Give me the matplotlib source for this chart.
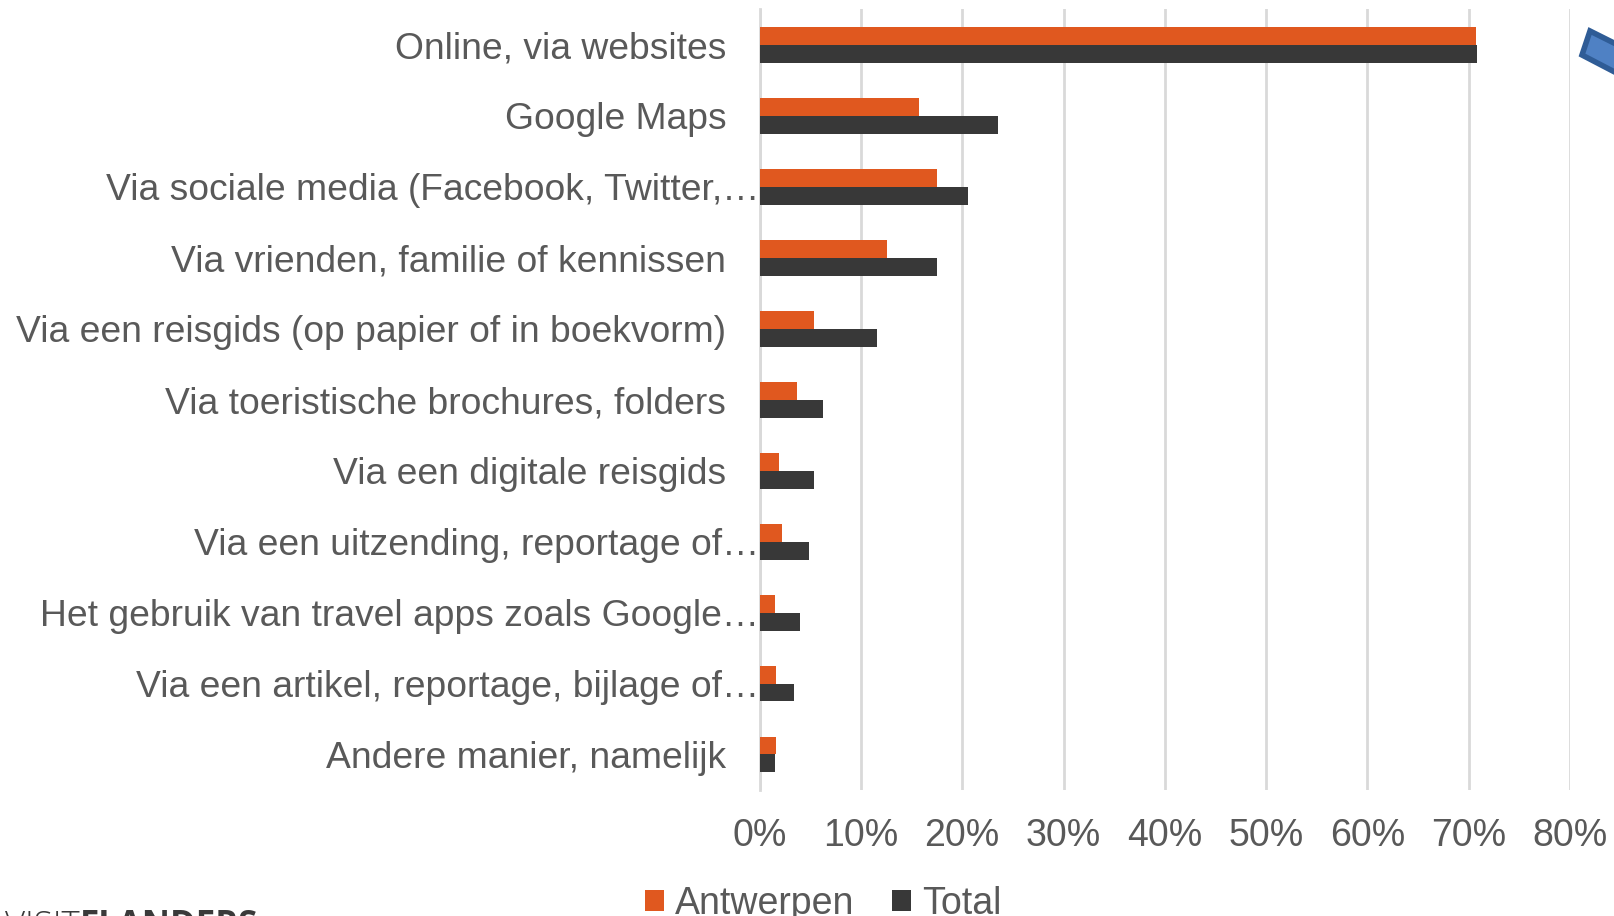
import matplotlib.pyplot as plt
import numpy as np
from matplotlib.patches import Polygon
from matplotlib.transforms import ScaledTranslation

plt.rcParams['font.family'] = ['Liberation Sans', 'DejaVu Sans']

categories = [
    "Online, via websites",
    "Google Maps",
    "Via sociale media (Facebook, Twitter,…",
    "Via vrienden, familie of kennissen",
    "Via een reisgids (op papier of in boekvorm)",
    "Via toeristische brochures, folders",
    "Via een digitale reisgids",
    "Via een uitzending, reportage of…",
    "Het gebruik van travel apps zoals Google…",
    "Via een artikel, reportage, bijlage of…",
    "Andere manier, namelijk",
]
antwerpen = [0.707, 0.157, 0.175, 0.126, 0.054, 0.037, 0.019, 0.022, 0.015, 0.016, 0.016]
total = [0.708, 0.235, 0.206, 0.175, 0.116, 0.063, 0.054, 0.049, 0.040, 0.034, 0.015]
ticks = np.arange(0, 0.81, 0.1)
tick_labels = [f"{int(round(t * 100))}%" for t in ticks]

orange = '#E0581F'
dark = '#383838'
grey = '#595959'

fig = plt.figure(figsize=(16.14, 9.16), dpi=100)
ax = fig.add_axes([0.4706, 0.1376, 0.5022, 0.8522])

y = np.arange(len(categories))
h = 0.253
ax.barh(y - h / 2, antwerpen, height=h, color=orange, label='Antwerpen', zorder=3)
ax.barh(y + h / 2, total, height=h, color=dark, label='Total', zorder=3)

ax.set_ylim(len(categories) - 0.5, -0.5)
ax.set_xlim(0, 0.8)
ax.set_yticks(y)
ax.set_yticklabels(categories, fontsize=26.8, color=grey)
ax.set_xticks(ticks)
ax.set_xticklabels(tick_labels, fontsize=27, color=grey)
ax.tick_params(axis='both', length=0)
ax.tick_params(axis='y', pad=24)
ax.tick_params(axis='x', pad=20)
ax.grid(axis='x', color='#D9D9D9', linewidth=2, zorder=0)
for s in ['top', 'right', 'bottom']:
    ax.spines[s].set_visible(False)
ax.spines['left'].set_color('#D9D9D9')
ax.spines['left'].set_linewidth(2)

# truncated labels run up to the axis, like Excel does
shift = ScaledTranslation(0.33, 0, fig.dpi_scale_trans)
for lbl in ax.get_yticklabels():
    if lbl.get_text().endswith('…'):
        lbl.set_transform(lbl.get_transform() + shift)

fig.legend(loc='center', bbox_to_anchor=(0.51, 0.013), ncol=2, frameon=False,
           fontsize=27, labelcolor=grey, handlelength=0.5, handleheight=0.5,
           handletextpad=0.3, columnspacing=1.0)

# cropped logo text at the bottom edge
fig.text(0.0496, 0.0076, "VISIT", fontsize=25, color='#3a3a3a', va='top', ha='right',
         family='Open Sans', fontweight='light')
fig.text(0.0496, 0.0076, "FLANDERS", fontsize=25, color='#3a3a3a', va='top', ha='left',
         family='Open Sans', fontweight='bold')

# cropped decoration at the top right
W, H = 1614, 916
pts = [(1590, 31), (1640, 56), (1630, 80), (1582, 55)]
fig.patches.append(Polygon([(px / W, 1 - py / H) for px, py in pts], closed=True,
                           transform=fig.transFigure, facecolor='#4F81C4',
                           edgecolor='#2F5C96', linewidth=4))

fig.savefig('out.png', dpi=100)
